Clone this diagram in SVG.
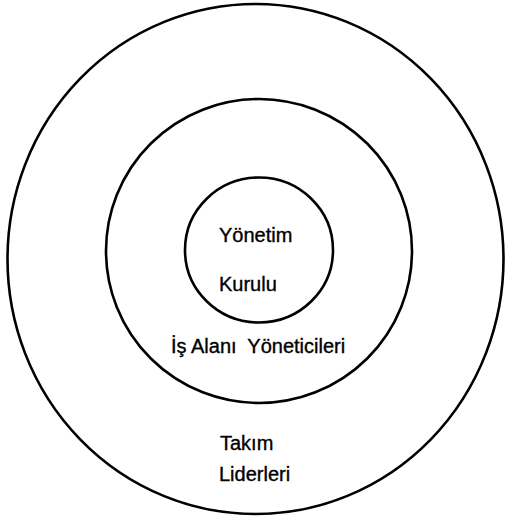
<svg xmlns="http://www.w3.org/2000/svg" width="505" height="519" viewBox="0 0 505 519">
<style>
.ring{fill:none;stroke:#000;stroke-width:2.6}
.t{font-family:"Liberation Sans",Arial,sans-serif;font-size:20px;fill:#000;stroke:#000;stroke-width:0.35}
</style>
<rect width="505" height="519" fill="#fff"/>
<g id="outer">
<ellipse class="ring" cx="255.5" cy="259" rx="248" ry="255"/>
<text class="t" x="220" y="450">Takım</text>
<text class="t" x="219" y="481">Liderleri</text>
</g>
<g id="middle">
<ellipse class="ring" cx="259" cy="251" rx="153" ry="152"/>
<text class="t" x="171" y="353" xml:space="preserve">İş Alanı  Yöneticileri</text>
</g>
<g id="inner">
<ellipse class="ring" cx="259" cy="250" rx="74" ry="72.5"/>
<text class="t" x="219" y="242">Yönetim</text>
<text class="t" x="219" y="291">Kurulu</text>
</g>
<g id="connectors"/>
</svg>
